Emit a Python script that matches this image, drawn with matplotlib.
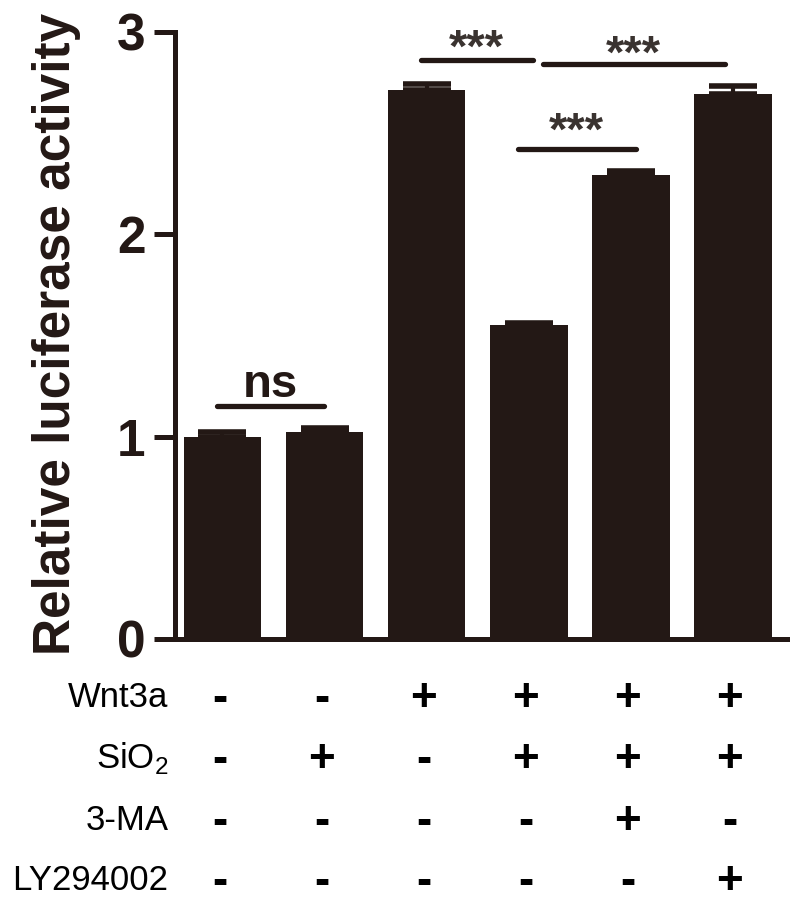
import numpy as np
import matplotlib
matplotlib.use('Agg')
import matplotlib.pyplot as plt
from matplotlib import transforms

plt.rcParams['font.family'] = ['Liberation Sans', 'DejaVu Sans']
plt.rcParams['mathtext.fontset'] = 'custom'
plt.rcParams['mathtext.rm'] = 'Liberation Sans'

# data
means = [1.00, 1.02, 2.71, 1.55, 2.29, 2.69]
errs = [0.02, 0.02, 0.03, 0.01, 0.02, 0.04]
yticks = [0, 1, 2, 3]

row_labels = ['Wnt3a', r'SiO$_\mathregular{2}$', '3-MA', 'LY294002']
treat = [['-', '-', '+', '+', '+', '+'],
         ['-', '+', '-', '+', '+', '+'],
         ['-', '-', '-', '-', '+', '-'],
         ['-', '-', '-', '-', '-', '+']]

# significance brackets: (x start, x end, line y, text y, label)
sig = [(-0.05, 0.99, 1.15, 1.195, 'ns'),
       (1.94, 3.04, 2.86, 2.85, '***'),
       (3.14, 4.92, 2.84, 2.82, '***'),
       (2.89, 4.05, 2.42, 2.44, '***')]

col = '#231815'
x = np.arange(len(means))

fig = plt.figure(figsize=(7.95, 9.05), dpi=100)
ax = fig.add_axes([0.220, 0.294, 0.770, 0.671])

ax.bar(x, means, width=0.76, color=col, zorder=2)
ax.errorbar(x, means, yerr=[np.zeros(len(errs)), errs], fmt='none',
            ecolor=col, elinewidth=3, capsize=17, capthick=4, zorder=1)

for x0, x1, ly, ty, lab in sig:
    ax.plot([x0, x1], [ly, ly], color=col, lw=3.8, solid_capstyle='round')
    if lab == 'ns':
        ax.text((x0 + x1) / 2, ty, lab, ha='center', va='baseline',
                fontsize=34, fontweight='bold', color=col)
    else:
        ax.text((x0 + x1) / 2, ty, lab, ha='center', va='baseline',
                fontsize=34, fontweight='bold', color='#3a3330')

ax.set_xlim(-0.466, 5.53)
ax.set_ylim(0, 3)
ax.set_yticks(yticks)
ax.set_xticks([])
ax.tick_params(axis='y', length=15, width=3.6, color=col, pad=6,
               labelsize=37, labelcolor=col)
for t in ax.get_yticklabels():
    t.set_fontweight('bold')

for s in ['top', 'right']:
    ax.spines[s].set_visible(False)
ax.spines['left'].set_linewidth(3.6)
ax.spines['bottom'].set_linewidth(3.6)
ax.spines['left'].set_color(col)
ax.spines['bottom'].set_color(col)
ax.spines['left'].set_bounds(0, 3)

fig.text(0.071, 0.631, 'Relative luciferase activity', rotation=90,
         ha='center', va='center', fontsize=37, fontweight='bold', color=col)

# treatment table below the bars
trans = transforms.blended_transform_factory(ax.transData, fig.transFigure)
row_y = [696, 757, 819, 879]
for r, lab in enumerate(row_labels):
    fig.text(0.212, 1 - (row_y[r] + 11) / 905, lab, ha='right', va='baseline',
             fontsize=25, color='black')
    for i, s in enumerate(treat[r]):
        ax.text(x[i] - 0.03, 1 - (row_y[r] + 15) / 905, s, transform=trans,
                ha='center', va='baseline', fontsize=33, fontweight='bold',
                color='black')

fig.savefig('out.png', dpi=100)
